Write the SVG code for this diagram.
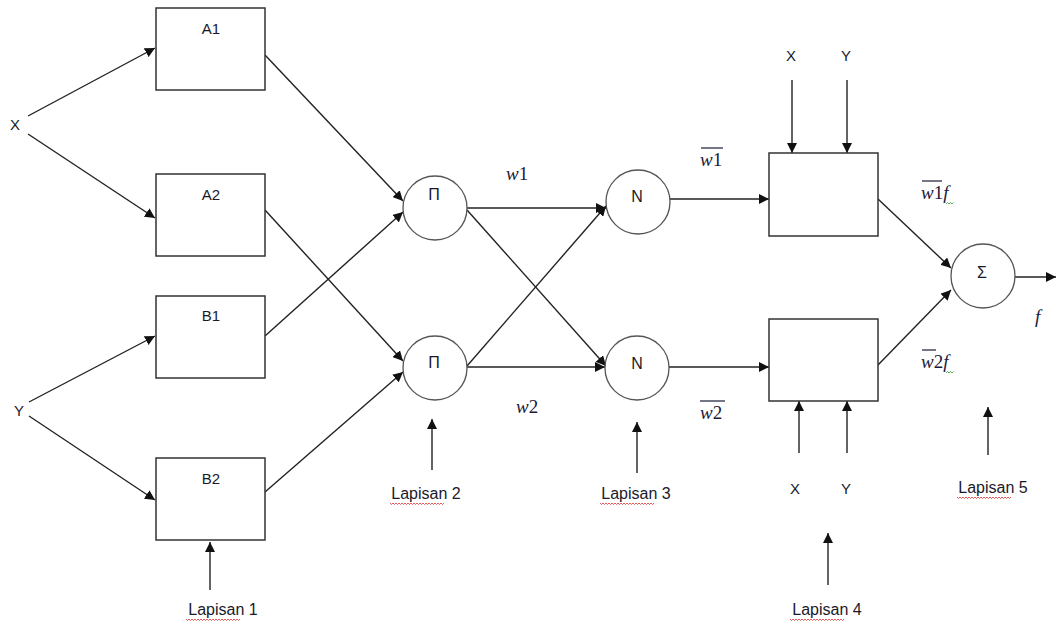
<svg xmlns="http://www.w3.org/2000/svg" width="1056" height="625" viewBox="0 0 1056 625">
  <style>
    .box { fill: #ffffff; stroke: #333333; stroke-width: 1.5; }
    .node { fill: #ffffff; stroke: #555555; stroke-width: 1.3; }
    .edge { stroke: #222222; stroke-width: 1.4; fill: none; marker-end: url(#arrow); }
    .lbl { font-family: "Liberation Sans", "Noto Sans", sans-serif; font-size: 15px; fill: #1a1a2a; text-anchor: middle; }
    .sym { font-family: "Liberation Sans", "Noto Sans", sans-serif; font-size: 16px; fill: #1a1a2a; text-anchor: middle; }
    .lay { font-family: "Liberation Sans", "Noto Sans", sans-serif; font-size: 16px; fill: #1a1a2a; text-anchor: middle; }
    .math { font-family: "Liberation Serif", "DejaVu Serif", serif; font-size: 19px; fill: #1a1a3a; }
    .bar { stroke: #1a1a3a; stroke-width: 1.2; }
    .squig { fill: none; stroke: #e03030; stroke-width: 0.8; }
    .squigG { fill: none; stroke: #30a030; stroke-width: 0.8; }
  </style>
  <defs>
    <marker id="arrow" viewBox="0 0 10 10" refX="10" refY="5" markerWidth="10" markerHeight="10" markerUnits="userSpaceOnUse" orient="auto">
      <path d="M0,0 L10,5 L0,10 z" fill="#111111"/>
    </marker>
    <path id="wave" class="squig" d="M0,0 l1.5,1.5 l1.5,-1.5 l1.5,1.5 l1.5,-1.5 l1.5,1.5 l1.5,-1.5 l1.5,1.5 l1.5,-1.5 l1.5,1.5 l1.5,-1.5 l1.5,1.5 l1.5,-1.5 l1.5,1.5 l1.5,-1.5 l1.5,1.5 l1.5,-1.5 l1.5,1.5 l1.5,-1.5 l1.5,1.5 l1.5,-1.5 l1.5,1.5 l1.5,-1.5 l1.5,1.5 l1.5,-1.5 l1.5,1.5 l1.5,-1.5 l1.5,1.5 l1.5,-1.5 l1.5,1.5 l1.5,-1.5 l1.5,1.5 l1.5,-1.5 l1.5,1.5 l1.5,-1.5 l1.5,1.5 l1.5,-1.5"/>
  </defs>
  <rect width="1056" height="625" fill="#ffffff"/>

  <!-- connectors -->
  <g id="connectors">
    <line class="edge" x1="28" y1="116" x2="155" y2="48"/>
    <line class="edge" x1="28" y1="134" x2="155" y2="218"/>
    <line class="edge" x1="29" y1="402" x2="155" y2="336"/>
    <line class="edge" x1="29" y1="416" x2="155" y2="500"/>

    <line class="edge" x1="265" y1="55" x2="403" y2="201"/>
    <line class="edge" x1="265" y1="336" x2="403" y2="212"/>
    <line class="edge" x1="265" y1="210" x2="403" y2="361"/>
    <line class="edge" x1="265" y1="492" x2="403" y2="372"/>

    <line class="edge" x1="467" y1="208" x2="606" y2="208"/>
    <line class="edge" x1="467" y1="210" x2="606" y2="366"/>
    <line class="edge" x1="467" y1="366" x2="606" y2="206"/>
    <line class="edge" x1="467" y1="367" x2="605" y2="367"/>

    <line class="edge" x1="670" y1="199" x2="769" y2="199"/>
    <line class="edge" x1="669" y1="367" x2="769" y2="367"/>

    <line class="edge" x1="792" y1="80" x2="792" y2="153"/>
    <line class="edge" x1="847" y1="80" x2="847" y2="153"/>
    <line class="edge" x1="799" y1="453" x2="799" y2="401"/>
    <line class="edge" x1="847" y1="453" x2="847" y2="401"/>

    <line class="edge" x1="878" y1="199" x2="951" y2="268"/>
    <line class="edge" x1="878" y1="365" x2="951" y2="290"/>
    <line class="edge" x1="1015" y1="277" x2="1056" y2="277"/>

    <line class="edge" x1="210" y1="590" x2="210" y2="542"/>
    <line class="edge" x1="432" y1="470" x2="432" y2="419"/>
    <line class="edge" x1="637" y1="473" x2="637" y2="422"/>
    <line class="edge" x1="828" y1="585" x2="828" y2="533"/>
    <line class="edge" x1="988" y1="455" x2="988" y2="407"/>
  </g>

  <!-- inputs -->
  <g id="input-x"><text class="lbl" x="15" y="130">X</text></g>
  <g id="input-y"><text class="lbl" x="19" y="416">Y</text></g>

  <!-- layer 1: membership boxes -->
  <g id="A1"><rect class="box" x="156" y="8" width="109" height="82"/><text class="lbl" x="211" y="34">A1</text></g>
  <g id="A2"><rect class="box" x="156" y="174" width="109" height="82"/><text class="lbl" x="211" y="200">A2</text></g>
  <g id="B1"><rect class="box" x="156" y="296" width="109" height="82"/><text class="lbl" x="211" y="321">B1</text></g>
  <g id="B2"><rect class="box" x="156" y="458" width="109" height="82"/><text class="lbl" x="211" y="484">B2</text></g>

  <!-- layer 2: product nodes -->
  <g id="P1"><circle class="node" cx="435" cy="208" r="32"/><text class="sym" x="434" y="200">Π</text></g>
  <g id="P2"><circle class="node" cx="435" cy="368" r="32"/><text class="sym" x="434" y="368">Π</text></g>

  <!-- layer 3: normalisation nodes -->
  <g id="N1"><circle class="node" cx="638" cy="202" r="32"/><text class="sym" x="637" y="202">N</text></g>
  <g id="N2"><circle class="node" cx="637" cy="368" r="32"/><text class="sym" x="637" y="369">N</text></g>

  <!-- layer 4: consequent boxes -->
  <g id="R1"><rect class="box" x="769" y="153" width="109" height="83"/></g>
  <g id="R2"><rect class="box" x="769" y="319" width="109" height="82"/></g>
  <g id="x-top"><text class="lbl" x="791" y="61">X</text></g>
  <g id="y-top"><text class="lbl" x="846" y="61">Y</text></g>
  <g id="x-bot"><text class="lbl" x="795" y="494">X</text></g>
  <g id="y-bot"><text class="lbl" x="846" y="494">Y</text></g>

  <!-- layer 5: summation -->
  <g id="S"><circle class="node" cx="983" cy="276" r="32"/><text class="sym" x="982" y="278">Σ</text></g>

  <!-- weight labels -->
  <g id="labels">
    <text class="math" x="506" y="180"><tspan font-style="italic">w</tspan>1</text>
    <text class="math" x="516" y="413"><tspan font-style="italic">w</tspan>2</text>
    <text class="math" x="700" y="166"><tspan font-style="italic">w</tspan>1</text>
    <line class="bar" x1="701" y1="148" x2="723" y2="148"/>
    <text class="math" x="700" y="419"><tspan font-style="italic">w</tspan>2</text>
    <line class="bar" x1="700" y1="401" x2="725" y2="401"/>
    <text class="math" x="921" y="199"><tspan font-style="italic">w</tspan>1<tspan font-style="italic">f</tspan></text>
    <line class="bar" x1="922" y1="181" x2="942" y2="181"/>
    <path class="squigG" d="M946,204 l1.5,-1.5 l1.5,1.5 l1.5,-1.5 l1.5,1.5 l1.5,-1.5"/>
    <text class="math" x="921" y="368"><tspan font-style="italic">w</tspan>2<tspan font-style="italic">f</tspan></text>
    <line class="bar" x1="922" y1="350" x2="936" y2="350"/>
    <path class="squigG" d="M946,373 l1.5,-1.5 l1.5,1.5 l1.5,-1.5 l1.5,1.5 l1.5,-1.5"/>
    <text class="math" x="1035" y="323" font-style="italic">f</text>
  </g>

  <!-- layer captions -->
  <g id="layer-captions">
    <text class="lay" x="223" y="615">Lapisan 1</text>
    <text class="lay" x="426" y="499">Lapisan 2</text>
    <text class="lay" x="636" y="499">Lapisan 3</text>
    <text class="lay" x="827" y="615">Lapisan 4</text>
    <text class="lay" x="993" y="493">Lapisan 5</text>
    <use href="#wave" x="186" y="619"/>
    <use href="#wave" x="390" y="503"/>
    <use href="#wave" x="600" y="503"/>
    <use href="#wave" x="790" y="619"/>
    <use href="#wave" x="957" y="497"/>
  </g>
</svg>
